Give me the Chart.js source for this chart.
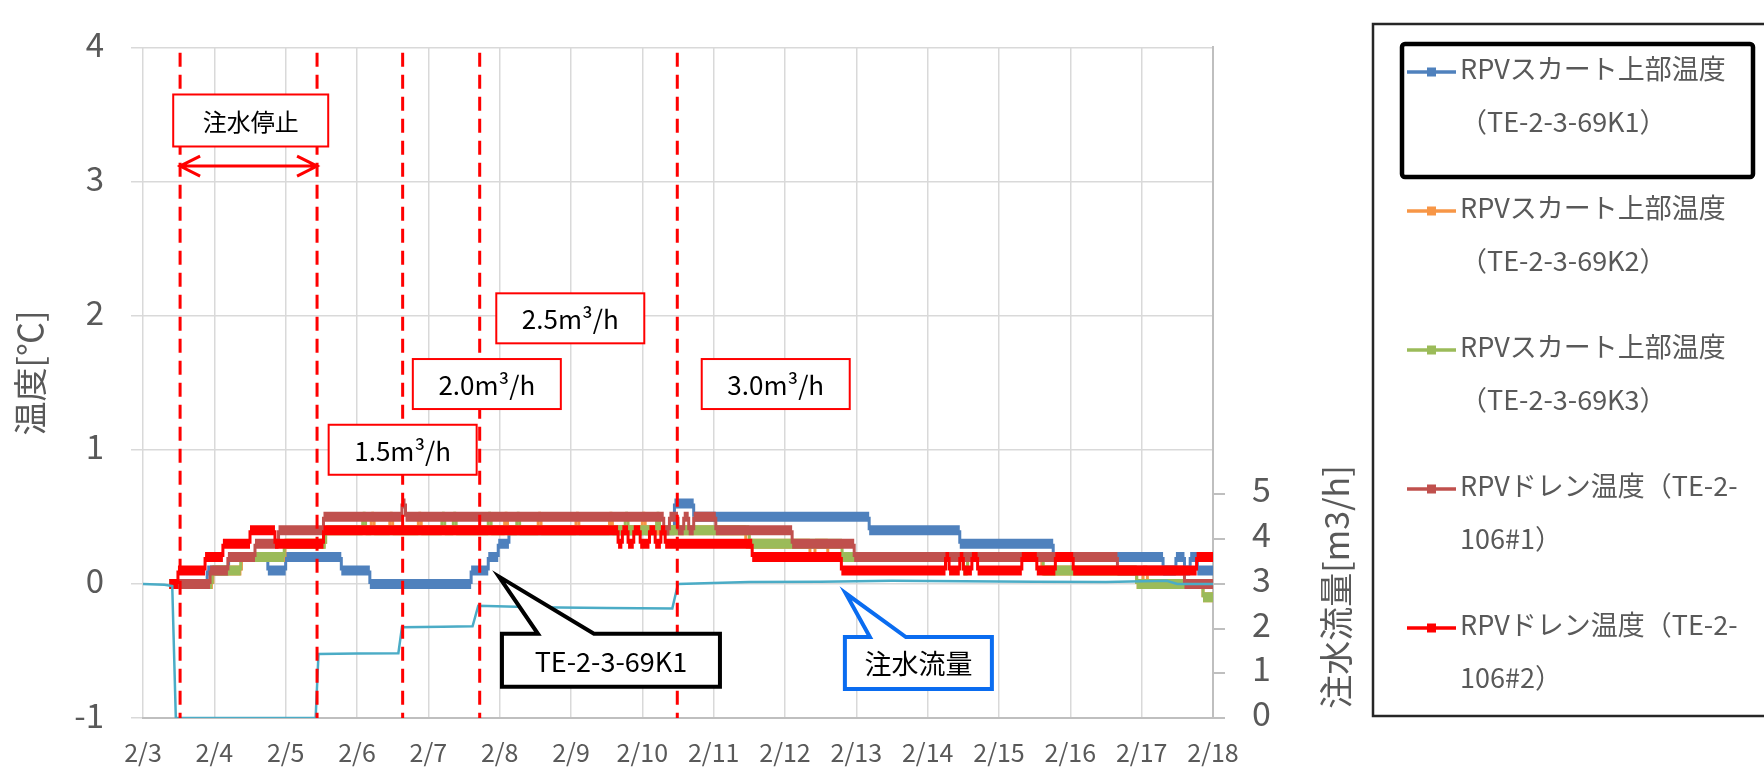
<!DOCTYPE html>
<html>
<head>
<meta charset="utf-8">
<script src="https://cdn.jsdelivr.net/npm/chart.js@4.4.1/dist/chart.umd.min.js"></script>
<style>
  body { margin: 0; background: #fff; }
  #wrap { width: 1764px; height: 769px; position: relative; }
</style>
</head>
<body>
<div id="wrap"><canvas id="chart" width="1764" height="769"></canvas></div>
<script>
// x = days since 2/3 0:00
const dayLabels = ['2/3','2/4','2/5','2/6','2/7','2/8','2/9','2/10','2/11','2/12','2/13','2/14','2/15','2/16','2/17','2/18'];
const tempTicks = [-1, 0, 1, 2, 3, 4];
const flowTicks = [0, 1, 2, 3, 4, 5];

// step series: value holds from day[i] until day[i+1]
const k1Days = [0.37, 0.9, 1.2, 1.75, 2.0, 2.78, 3.18, 4.6, 4.84, 4.98, 5.13, 7.45, 7.72, 10.18, 11.45, 12.76, 14.3, 14.48, 14.6, 14.68, 14.78];
const k1Vals = [0, 0.1, 0.2, 0.1, 0.2, 0.1, 0, 0.1, 0.2, 0.3, 0.4, 0.6, 0.5, 0.4, 0.3, 0.2, 0.1, 0.2, 0.1, 0.2, 0.1];

const k2Days = [0.37, 0.98, 1.38, 1.99, 2.56, 3.2, 3.24, 3.46, 3.5, 3.86, 3.9, 5.07, 5.11, 5.54, 5.58, 6.07, 6.11, 6.54, 6.58, 7.0, 7.04, 8.45, 9.35, 9.42, 9.6, 12.6, 13.93, 14.02, 14.08, 14.86];
const k2Vals = [0, 0.1, 0.2, 0.3, 0.4, 0.5, 0.4, 0.5, 0.4, 0.5, 0.4, 0.5, 0.4, 0.5, 0.4, 0.5, 0.4, 0.5, 0.4, 0.5, 0.4, 0.3, 0.2, 0.3, 0.2, 0.1, 0, 0.1, 0, -0.1];

const k3Days = [0.37, 0.97, 1.37, 1.98, 2.56, 3.08, 3.12, 4.19, 4.23, 4.35, 4.39, 4.84, 4.88, 5.24, 5.28, 6.76, 6.8, 7.2, 7.24, 8.5, 9.8, 11.5, 11.56, 12.62, 13.93, 14.86];
const k3Vals = [0, 0.1, 0.2, 0.3, 0.4, 0.5, 0.4, 0.5, 0.4, 0.5, 0.4, 0.5, 0.4, 0.5, 0.4, 0.5, 0.4, 0.5, 0.4, 0.3, 0.2, 0.1, 0.2, 0.1, 0, -0.1];

const drain1Days = [0.37, 0.94, 1.19, 1.57, 1.9, 2.53, 3.63, 3.68, 7.3, 7.38, 7.5, 7.58, 7.65, 7.72, 8.03, 9.1, 9.97, 13.66, 14.6];
const drain1Vals = [0, 0.1, 0.2, 0.3, 0.4, 0.5, 0.6, 0.5, 0.4, 0.5, 0.4, 0.5, 0.4, 0.5, 0.4, 0.3, 0.2, 0.1, 0];

const drain2Days = [0.37, 0.49, 0.87, 1.12, 1.5, 1.85, 2.53, 6.66, 6.72, 6.8, 6.88, 6.97, 7.1, 7.18, 7.26, 7.32, 8.54, 9.79, 11.25, 11.3, 11.45, 11.5, 11.62, 11.7, 12.32, 12.53, 12.79, 13.04, 14.77];
const drain2Vals = [0, 0.1, 0.2, 0.3, 0.4, 0.3, 0.4, 0.3, 0.4, 0.3, 0.4, 0.3, 0.4, 0.3, 0.4, 0.3, 0.2, 0.1, 0.2, 0.1, 0.2, 0.1, 0.2, 0.1, 0.2, 0.1, 0.2, 0.1, 0.2];

// injection flow [m3/h], right axis
const flowDays = [0, 0.3, 0.41, 0.46, 2.42, 2.46, 3.0, 3.58, 3.63, 4.2, 4.62, 4.7, 5.5, 6.5, 7.42, 7.5, 8.5, 9.5, 10.5, 11.5, 12.5, 13.5, 14.35, 14.5, 15.0];
const flowVals = [3.0, 2.98, 2.95, 0, 0, 1.43, 1.44, 1.45, 2.03, 2.04, 2.05, 2.51, 2.48, 2.46, 2.45, 3.0, 3.04, 3.05, 3.07, 3.06, 3.05, 3.04, 3.07, 3.0, 3.0];

// annotations
const changeDays = [0.52, 2.44, 3.64, 4.72, 7.49];
const rateLabels = ['1.5m³/h', '2.0m³/h', '2.5m³/h', '3.0m³/h'];
const rateBoxDays = [3.64, 4.82, 5.99, 8.87];
const rateBoxTemps = [1.0, 1.49, 1.98, 1.49];

const seriesNames = [
  ['RPVスカート上部温度', '（TE-2-3-69K1）'],
  ['RPVスカート上部温度', '（TE-2-3-69K2）'],
  ['RPVスカート上部温度', '（TE-2-3-69K3）'],
  ['RPVドレン温度（TE-2-', '106#1）'],
  ['RPVドレン温度（TE-2-', '106#2）']
];
const seriesColors = ['#4F81BD', '#F79646', '#9BBB59', '#C0504D', '#FF0000'];
const flowColor = '#4BACC6';
const END_DAY = 15;
const FONT = "'Noto Sans CJK JP', 'Noto Sans', sans-serif";

function stepPoints(days, vals) {
  const pts = [{ x: days[0], y: vals[0] }];
  for (let i = 1; i < days.length; i++) {
    pts.push({ x: days[i], y: vals[i - 1] });
    pts.push({ x: days[i], y: vals[i] });
  }
  pts.push({ x: END_DAY, y: vals[vals.length - 1] });
  return pts;
}

function tempDataset(i, days, vals) {
  return {
    label: seriesNames[i].join(''),
    data: stepPoints(days, vals),
    borderColor: seriesColors[i],
    backgroundColor: seriesColors[i],
    borderWidth: 10,
    pointRadius: 0,
    borderCapStyle: 'butt',
    yAxisID: 'y',
    order: 6 - i,
    segment: {
      borderWidth: c => (c.p0.parsed.x === c.p1.parsed.x ? 3 : 10)
    }
  };
}

const annotate = {
  id: 'annotate',
  afterDatasetsDraw(chart) {
    const ctx = chart.ctx;
    const x = chart.scales.x, y = chart.scales.y;
    ctx.save();
    // dashed change lines
    ctx.strokeStyle = '#FF0000';
    ctx.lineWidth = 3;
    ctx.setLineDash([14, 8]);
    changeDays.forEach(d => {
      const px = x.getPixelForValue(d);
      ctx.beginPath();
      ctx.moveTo(px, y.getPixelForValue(3.96));
      ctx.lineTo(px, y.getPixelForValue(-1));
      ctx.stroke();
    });
    ctx.setLineDash([]);

    function box(cx, cy, w, h, text, stroke, lw, fs) {
      ctx.fillStyle = '#fff';
      ctx.fillRect(cx - w / 2, cy - h / 2, w, h);
      ctx.strokeStyle = stroke;
      ctx.lineWidth = lw;
      ctx.strokeRect(cx - w / 2, cy - h / 2, w, h);
      ctx.fillStyle = '#000';
      ctx.font = fs + 'px ' + FONT;
      ctx.textAlign = 'center';
      ctx.textBaseline = 'middle';
      ctx.fillText(text, cx, cy + 1);
    }

    // stop period
    box(x.getPixelForValue(1.51), y.getPixelForValue(3.455), 155, 52, '注水停止', '#FF0000', 2, 24);
    const ay = y.getPixelForValue(3.115);
    const a0 = x.getPixelForValue(changeDays[0]), a1 = x.getPixelForValue(changeDays[1]);
    ctx.strokeStyle = '#FF0000';
    ctx.lineWidth = 3;
    ctx.beginPath();
    ctx.moveTo(a0, ay); ctx.lineTo(a1, ay);
    ctx.moveTo(a0 + 20, ay - 10); ctx.lineTo(a0, ay); ctx.lineTo(a0 + 20, ay + 10);
    ctx.moveTo(a1 - 20, ay - 10); ctx.lineTo(a1, ay); ctx.lineTo(a1 - 20, ay + 10);
    ctx.stroke();

    rateLabels.forEach((t, i) => {
      box(x.getPixelForValue(rateBoxDays[i]), y.getPixelForValue(rateBoxTemps[i]), 148, 50, t, '#FF0000', 2, 26);
    });

    // callouts
    function callout(cx, cy, w, h, tipX, tipY, b0, b1, text, stroke) {
      const l = cx - w / 2, t = cy - h / 2;
      ctx.beginPath();
      ctx.moveTo(l, t);
      ctx.lineTo(l + b0, t);
      ctx.lineTo(tipX, tipY);
      ctx.lineTo(l + b1, t);
      ctx.lineTo(l + w, t);
      ctx.lineTo(l + w, t + h);
      ctx.lineTo(l, t + h);
      ctx.closePath();
      ctx.fillStyle = '#fff';
      ctx.fill();
      ctx.strokeStyle = stroke;
      ctx.lineWidth = 4;
      ctx.lineJoin = 'miter';
      ctx.stroke();
      ctx.fillStyle = '#000';
      ctx.font = '27px ' + FONT;
      ctx.textAlign = 'center';
      ctx.textBaseline = 'middle';
      ctx.fillText(text, cx, cy + 1);
    }
    callout(x.getPixelForValue(6.56), y.getPixelForValue(-0.57), 218, 53,
      x.getPixelForValue(4.99), y.getPixelForValue(0.054), 36, 92, 'TE-2-3-69K1', '#000');
    callout(x.getPixelForValue(10.87), y.getPixelForValue(-0.59), 147, 52,
      x.getPixelForValue(9.85), y.getPixelForValue(-0.07), 25, 61, '注水流量', '#0A6CF0');
    ctx.restore();
  },
  afterDraw(chart) {
    const ctx = chart.ctx;
    ctx.save();
    // axis titles
    ctx.fillStyle = '#595959';
    ctx.font = '34px ' + FONT;
    ctx.textAlign = 'center';
    ctx.textBaseline = 'middle';
    ctx.translate(30, 373);
    ctx.rotate(-Math.PI / 2);
    ctx.fillText('温度[℃]', 0, 0);
    ctx.setTransform(1, 0, 0, 1, 0, 0);
    ctx.translate(1336, 587);
    ctx.rotate(-Math.PI / 2);
    ctx.fillText('注水流量[m3/h]', 0, 0);
    ctx.setTransform(1, 0, 0, 1, 0, 0);

    // legend
    ctx.strokeStyle = '#262626';
    ctx.lineWidth = 2.5;
    ctx.strokeRect(1373, 24, 440, 692);
    ctx.strokeStyle = '#000';
    ctx.lineWidth = 4.5;
    ctx.beginPath();
    ctx.roundRect(1402, 44, 351, 133, 3);
    ctx.stroke();
    ctx.font = '27px ' + FONT;
    ctx.textAlign = 'left';
    seriesNames.forEach((lines, i) => {
      const ly = 72 + 139 * i;
      ctx.strokeStyle = seriesColors[i];
      ctx.lineWidth = 3.5;
      ctx.beginPath();
      ctx.moveTo(1407, ly); ctx.lineTo(1456, ly);
      ctx.stroke();
      ctx.fillStyle = seriesColors[i];
      ctx.fillRect(1427, ly - 4.5, 9, 9);
      ctx.fillStyle = '#595959';
      ctx.fillText(lines[0], 1460, 69 + 139 * i);
      ctx.fillText(lines[1], 1460, 122 + 139 * i);
    });
    ctx.restore();
  }
};

const datasets = [
  tempDataset(0, k1Days, k1Vals),
  tempDataset(1, k2Days, k2Vals),
  tempDataset(2, k3Days, k3Vals),
  tempDataset(3, drain1Days, drain1Vals),
  tempDataset(4, drain2Days, drain2Vals),
  {
    label: '注水流量',
    data: flowDays.map((d, i) => ({ x: d, y: flowVals[i] })),
    borderColor: flowColor,
    borderWidth: 2.5,
    pointRadius: 0,
    yAxisID: 'y1',
    order: 0
  }
];

new Chart(document.getElementById('chart'), {
  type: 'line',
  data: { datasets },
  options: {
    responsive: false,
    animation: false,
    events: [],
    layout: { padding: { top: 26, left: 0, right: 0, bottom: 0 } },
    plugins: { legend: { display: false }, tooltip: { enabled: false } },
    scales: {
      x: {
        type: 'linear',
        min: 0,
        max: END_DAY,
        afterFit: s => { s.height = 51; },
        afterBuildTicks: s => { s.ticks = dayLabels.map((_, i) => ({ value: i })); },
        ticks: {
          callback: v => dayLabels[v],
          color: '#595959',
          font: { family: FONT, size: 25 },
          padding: 19,
          maxRotation: 0,
          autoSkip: false
        },
        grid: { color: '#D9D9D9', lineWidth: 1.5, drawTicks: false },
        border: { color: '#BFBFBF', width: 2 }
      },
      y: {
        position: 'left',
        min: -1,
        max: 4,
        afterFit: s => { s.width = 143; },
        afterBuildTicks: s => { s.ticks = tempTicks.map(v => ({ value: v })); },
        ticks: {
          color: '#595959',
          font: { family: FONT, size: 33 },
          padding: 27,
          labelOffset: -3
        },
        grid: { color: '#D9D9D9', lineWidth: 1.5, tickLength: 12, tickColor: '#D9D9D9' },
        border: { display: false }
      },
      y1: {
        position: 'right',
        min: 0,
        max: 15,
        afterFit: s => { s.width = 1764 - 1213; },
        afterBuildTicks: s => { s.ticks = flowTicks.map(v => ({ value: v })); },
        ticks: {
          color: '#595959',
          font: { family: FONT, size: 34 },
          padding: 27,
          labelOffset: -5
        },
        grid: { drawOnChartArea: false, tickLength: 12, tickColor: '#BFBFBF', lineWidth: 2 },
        border: { color: '#BFBFBF', width: 2 }
      }
    }
  },
  plugins: [annotate]
});
</script>
</body>
</html>
